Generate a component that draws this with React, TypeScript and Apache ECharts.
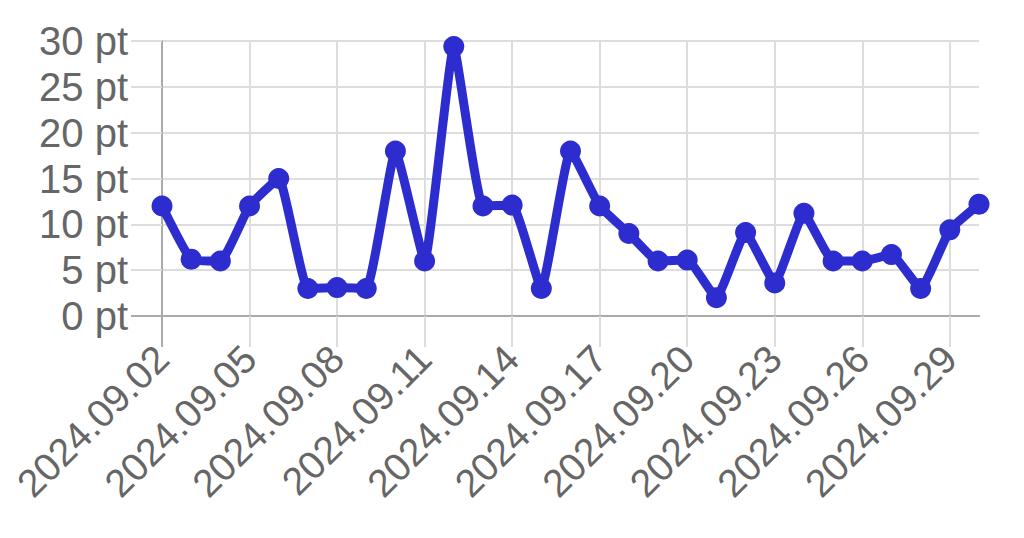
import React, { useEffect, useRef } from "react";
import * as echarts from "echarts";

const dates = [
  "2024.09.02", "2024.09.03", "2024.09.04", "2024.09.05", "2024.09.06", "2024.09.07",
  "2024.09.08", "2024.09.09", "2024.09.10", "2024.09.11", "2024.09.12", "2024.09.13",
  "2024.09.14", "2024.09.15", "2024.09.16", "2024.09.17", "2024.09.18", "2024.09.19",
  "2024.09.20", "2024.09.21", "2024.09.22", "2024.09.23", "2024.09.24", "2024.09.25",
  "2024.09.26", "2024.09.27", "2024.09.28", "2024.09.29", "2024.09.30",
];
const values = [
  12, 6.2, 6, 12, 15, 3, 3.1, 3, 18, 6, 29.4, 12, 12.1, 3, 18, 12, 9, 6, 6.1, 2,
  9.1, 3.6, 11.2, 6, 6, 6.7, 3, 9.4, 12.2,
];
const yTicks = [0, 5, 10, 15, 20, 25, 30];

const LEFT = 162;
const RIGHT = 45;
const TOP = 41;
const BOTTOM = 222;
const FONT = "'Liberation Sans', Arial, sans-serif";

export default function App() {
  const ref = useRef<HTMLDivElement>(null);
  useEffect(() => {
    if (!ref.current) return;
    const chart = echarts.init(ref.current, null, { renderer: "svg" });
    const H = 538;
    chart.setOption({
      animation: false,
      grid: { left: LEFT, right: RIGHT, top: TOP, bottom: BOTTOM, containLabel: false },
      xAxis: {
        type: "category",
        data: dates,
        boundaryGap: false,
        axisLine: { show: true, lineStyle: { color: "#aaaaaa", width: 2 } },
        axisTick: {
          show: true,
          interval: 2,
          length: 31,
          lineStyle: { color: "#dddddd", width: 2 },
        },
        splitLine: { show: true, interval: 2, lineStyle: { color: "#dddddd", width: 2 } },
        axisLabel: {
          interval: 2,
          rotate: 45,
          margin: 36,
          color: "#666666",
          fontSize: 39,
          fontFamily: FONT,
        },
      },
      yAxis: {
        type: "value",
        min: 0,
        max: 30,
        interval: 5,
        axisLine: { show: true, lineStyle: { color: "#aaaaaa", width: 2 } },
        axisTick: { show: true, length: 31, lineStyle: { color: "#dddddd", width: 2 } },
        splitLine: { show: true, lineStyle: { color: "#dddddd", width: 2 } },
        axisLabel: {
          margin: 34,
          color: "#666666",
          fontSize: 40,
          fontFamily: FONT,
          formatter: (v: number) => (yTicks.includes(v) ? `${v} pt` : ""),
        },
      },
      graphic: [
        {
          type: "line",
          shape: { x1: LEFT - 31, y1: H - BOTTOM, x2: LEFT, y2: H - BOTTOM },
          style: { stroke: "#aaaaaa", lineWidth: 2 },
          z: 10,
        },
        {
          type: "line",
          shape: { x1: LEFT, y1: H - BOTTOM, x2: LEFT, y2: H - BOTTOM + 31 },
          style: { stroke: "#aaaaaa", lineWidth: 2 },
          z: 10,
        },
      ],
      series: [
        {
          type: "line",
          data: values,
          smooth: 0.12,
          symbol: "circle",
          symbolSize: 21,
          showSymbol: true,
          showAllSymbol: true,
          lineStyle: { color: "#2d2dcf", width: 9 },
          itemStyle: { color: "#2d2dcf" },
          z: 5,
        },
      ],
    });
    return () => chart.dispose();
  }, []);
  return <div ref={ref} style={{ width: 1024, height: 538, position: "absolute", left: 0, top: 0 }} />;
}
